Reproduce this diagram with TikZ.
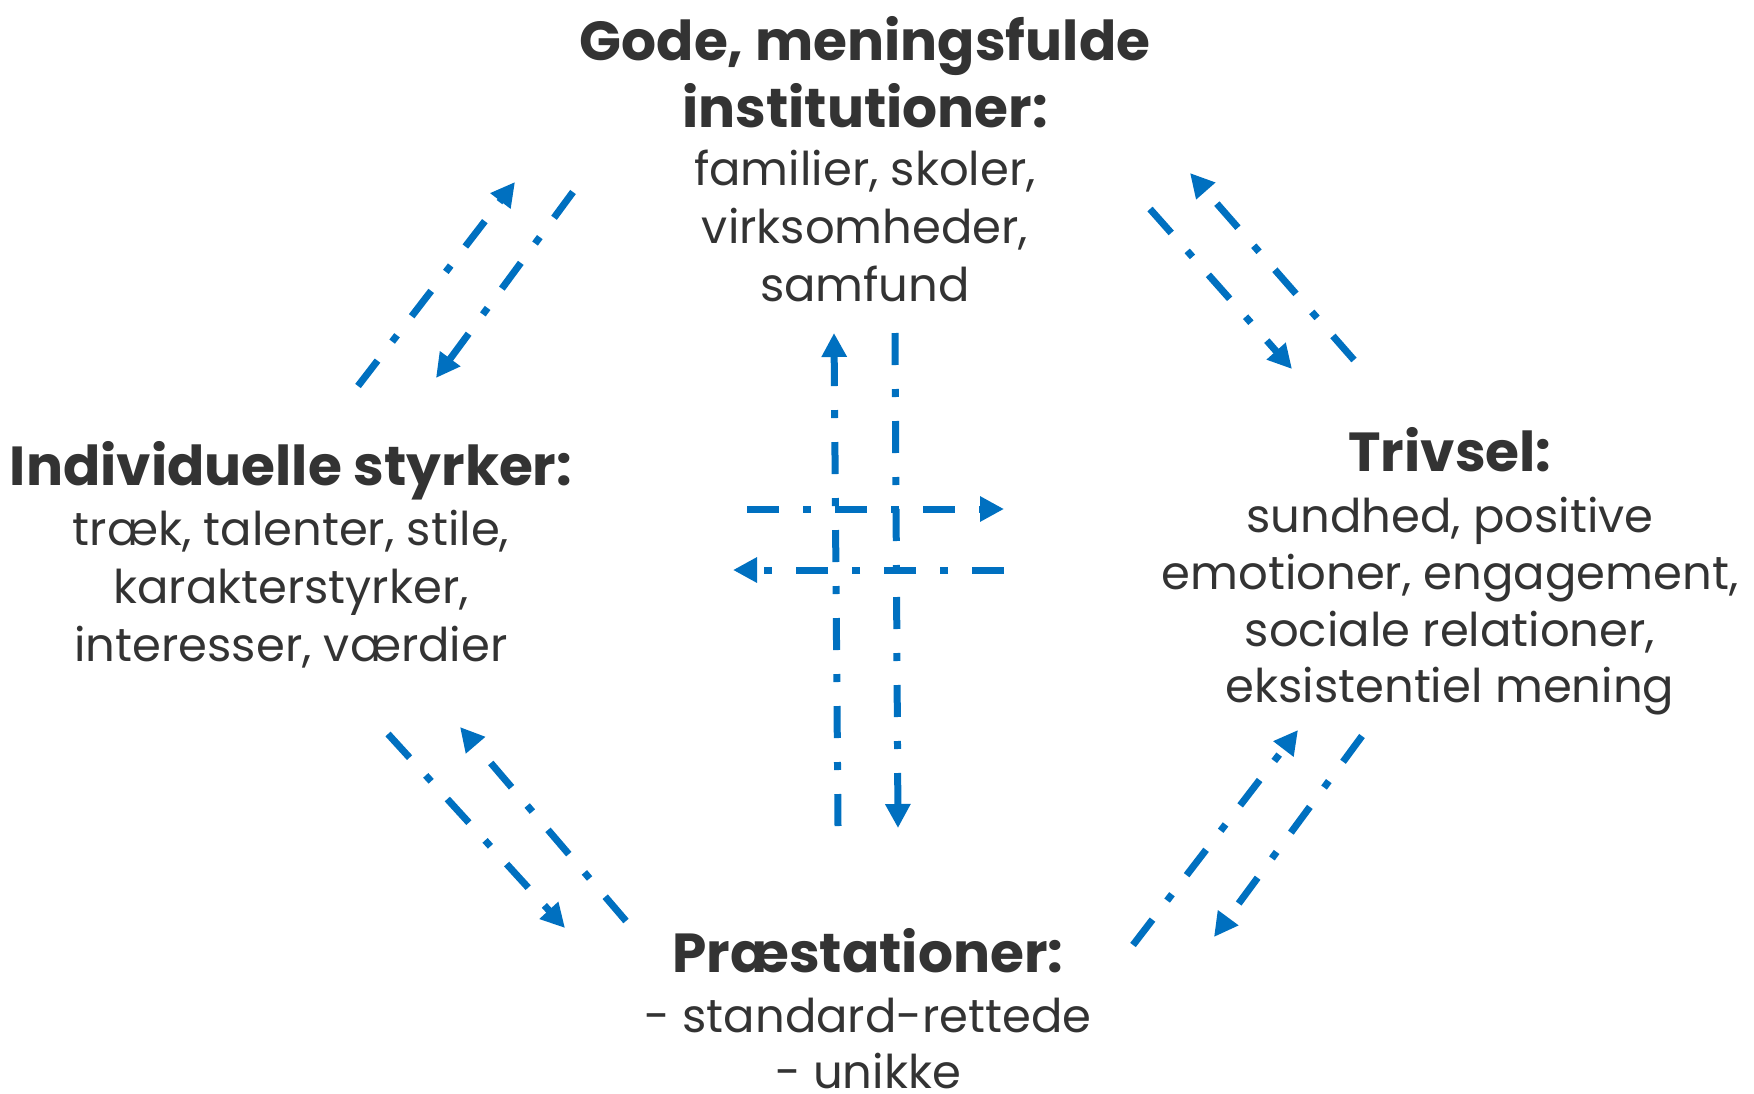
\documentclass[tikz,border=0pt]{standalone}
\usepackage{fontspec}
\setmainfont{Poppins}
\usetikzlibrary{arrows.meta}
\definecolor{arrowblue}{HTML}{0070C0}
\definecolor{txt}{HTML}{333333}
\begin{document}
\begin{tikzpicture}[x=1pt,y=-1pt,
  head/.style={anchor=base, font=\bfseries\fontsize{55}{60}\selectfont, text=txt, inner sep=0pt},
  body/.style={anchor=base, font=\fontsize{46.5}{57}\selectfont, text=txt, inner sep=0pt},
  link/.style={draw=arrowblue, line width=7pt, dash pattern=on 32pt off 24pt on 8pt off 24pt,
    -{Triangle[length=24pt,width=24pt]}}
]
\useasboundingbox (0,0) rectangle (1754,1093);

% top
\node[head] (t1) at (865,60) {Gode, meningsfulde};
\node[head] (t2) at (865,127) {institutioner:};
\node[body] (t3) at (865,185) {familier, skoler,};
\node[body] (t4) at (865,243) {virksomheder,};
\node[body] (t5) at (865,301) {samfund};

% left
\node[head] (l1) at (291,485) {Individuelle styrker:};
\node[body] (l2) at (291,545) {træk, talenter, stile,};
\node[body] (l3) at (291,603) {karakterstyrker,};
\node[body] (l4) at (291,661) {interesser, værdier};

% right
\node[head] (r1) at (1450,471) {Trivsel:};
\node[body] (r2) at (1450,532) {sundhed, positive};
\node[body] (r3) at (1450,589) {emotioner, engagement,};
\node[body] (r4) at (1450,646) {sociale relationer,};
\node[body] (r5) at (1450,702) {eksistentiel mening};

% bottom
\node[head] (b1) at (868,972) {Præstationer:};
\node[body] (b2) at (868,1032) {- standard-rettede};
\node[body] (b3) at (868,1088) {- unikke};

% arrow end points
\coordinate (a1s) at (358,386); \coordinate (a1e) at (515,182);
\coordinate (a2s) at (573,192); \coordinate (a2e) at (436,378);
\coordinate (a3s) at (1150,209); \coordinate (a3e) at (1292,369);
\coordinate (a4s) at (1354,360); \coordinate (a4e) at (1190,173);
\coordinate (a5s) at (388,734); \coordinate (a5e) at (565,928);
\coordinate (a6s) at (626,921); \coordinate (a6e) at (460,727);
\coordinate (a7s) at (1133,945); \coordinate (a7e) at (1298,730);
\coordinate (a8s) at (1362,736); \coordinate (a8e) at (1214,937);
\coordinate (c1s) at (838,826); \coordinate (c1e) at (834,333);
\coordinate (c2s) at (895,333); \coordinate (c2e) at (898,828);
\coordinate (c3s) at (747,509); \coordinate (c3e) at (1004,509);
\coordinate (c4s) at (1004,570); \coordinate (c4e) at (733,570);

\foreach \p in {a1,a2,a3,a4,a5,a6,a7,a8,c1,c2,c3,c4}
  \draw[link] (\p s) -- (\p e);
\end{tikzpicture}
\end{document}
